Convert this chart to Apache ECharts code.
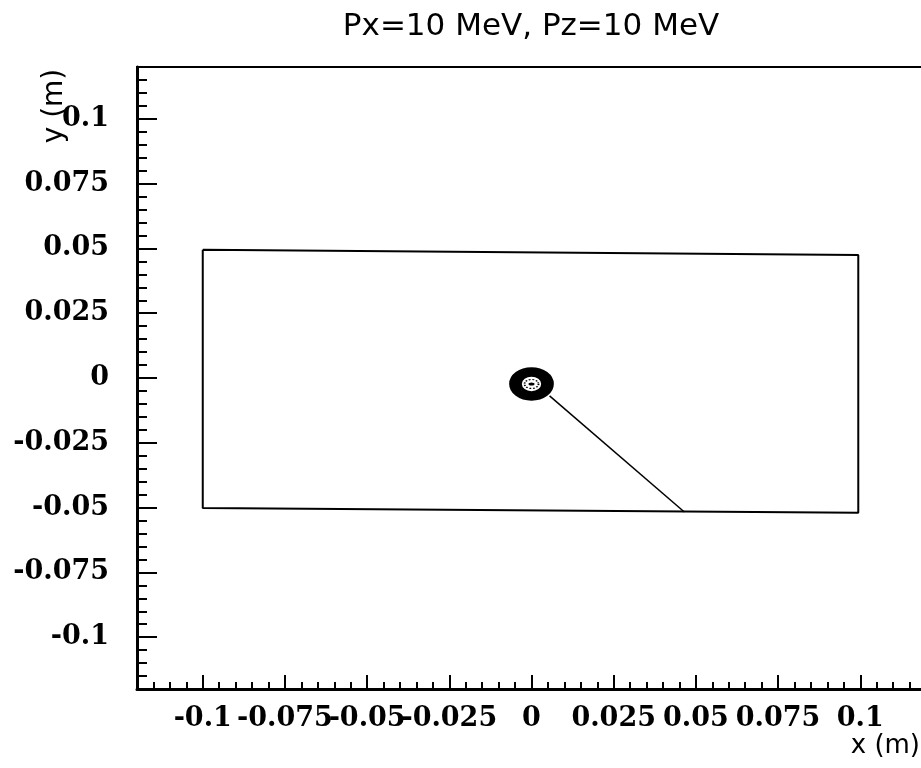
<!DOCTYPE html>
<html>
<head>
<meta charset="utf-8">
<script src="https://cdn.jsdelivr.net/npm/echarts@6/dist/echarts.min.js"></script>
<style>
  html, body { margin: 0; padding: 0; background: #fff; }
  #main { width: 921px; height: 768px; }
</style>
</head>
<body>
<div id="main"></div>
<script>
// axis ticks (major ones get labels)
var majorTicks = [-0.1, -0.075, -0.05, -0.025, 0, 0.025, 0.05, 0.075, 0.1];
var majorLabels = ['-0.1', '-0.075', '-0.05', '-0.025', '0', '0.025', '0.05', '0.075', '0.1'];

// detector box outline (x, y), slightly tilted as in the scan
var boxX = [-0.1, 0.0994, 0.0994, -0.1, -0.1];
var boxY = [0.0495, 0.0475, -0.052, -0.0502, 0.0495];

// curled-up track at the centre, and the straight part leaving it
var curlCentre = [0.0, -0.0023];
var trackX = [0.0055, 0.0465];
var trackY = [-0.0069, -0.0517];

var chartDom = document.getElementById('main');
var myChart = echarts.init(chartDom);
var option;

var labelFont = {
    fontFamily: 'DejaVu Serif',
    fontWeight: 'bold',
    fontSize: 27,
    color: '#000'
};

function labelFor(v) {
    for (var i = 0; i < majorTicks.length; i++) {
        if (Math.abs(majorTicks[i] - v) < 1e-6) return majorLabels[i];
    }
    return '';
}

function zip(xs, ys) {
    return xs.map(function (x, i) { return [x, ys[i]]; });
}

// minor ticks every 0.005, no labels
function minorAxis(pos, len) {
    return {
        type: 'value',
        min: -0.12,
        max: 0.12,
        interval: 0.005,
        position: pos,
        axisLine: { show: true, onZero: false, lineStyle: { color: '#000', width: 3 } },
        axisTick: { show: true, inside: true, length: len, lineStyle: { color: '#000', width: 2 } },
        axisLabel: { show: false },
        splitLine: { show: false }
    };
}

// long ticks + labels every 0.025
function majorAxis(pos, len, margin) {
    return {
        type: 'value',
        min: -0.12,
        max: 0.12,
        interval: 0.005,
        position: pos,
        axisLine: { show: false, onZero: false },
        axisTick: {
            show: true, inside: true, length: len,
            customValues: majorTicks,
            lineStyle: { color: '#000', width: 2 }
        },
        axisLabel: Object.assign({
            customValues: majorTicks,
            margin: margin,
            formatter: labelFor
        }, labelFont),
        splitLine: { show: false }
    };
}

option = {
    animation: false,
    backgroundColor: '#fff',
    title: {
        text: 'Px=10 MeV, Pz=10 MeV',
        left: 526,
        top: 6,
        textAlign: 'center',
        textStyle: {
            fontFamily: 'DejaVu Sans',
            fontWeight: 'normal',
            fontSize: 31,
            color: '#000'
        }
    },
    grid: {
        left: 137,
        width: 789,
        top: 67,
        bottom: 79,
        containLabel: false,
        outerBoundsMode: 'none',
        show: true,
        borderColor: '#000',
        borderWidth: 2
    },
    xAxis: [minorAxis('bottom', 7), majorAxis('bottom', 14, 16)],
    yAxis: [minorAxis('left', 10), majorAxis('left', 20, 28)],
    graphic: [
        {
            type: 'text',
            x: 55,
            y: 106,
            rotation: Math.PI / 2,
            style: {
                text: 'y (m)',
                fontFamily: 'DejaVu Sans',
                fontSize: 28,
                fill: '#000',
                textAlign: 'center',
                textVerticalAlign: 'middle'
            }
        },
        {
            type: 'text',
            x: 920,
            y: 746,
            style: {
                text: 'x (m)',
                fontFamily: 'DejaVu Sans',
                fontSize: 26,
                fill: '#000',
                textAlign: 'right',
                textVerticalAlign: 'middle'
            }
        }
    ],
    series: [
        {
            name: 'box',
            type: 'line',
            data: zip(boxX, boxY),
            symbol: 'none',
            lineStyle: { color: '#000', width: 2 }
        },
        {
            name: 'track',
            type: 'line',
            data: zip(trackX, trackY),
            symbol: 'none',
            lineStyle: { color: '#000', width: 1.5 }
        },
        {
            name: 'curl',
            type: 'scatter',
            data: [curlCentre],
            symbol: 'circle',
            symbolSize: [32, 24],
            itemStyle: { color: '#fff', borderColor: '#000', borderWidth: 11, opacity: 1 },
            z: 3
        },
        {
            name: 'curl core',
            type: 'scatter',
            data: [curlCentre],
            symbol: 'circle',
            symbolSize: [14, 9],
            itemStyle: { color: '#fff', borderColor: '#000', borderWidth: 1.5, borderType: 'dotted', opacity: 1 },
            z: 4
        },
        {
            name: 'curl dot',
            type: 'scatter',
            data: [curlCentre],
            symbol: 'circle',
            symbolSize: [6, 3],
            itemStyle: { color: '#000', opacity: 1 },
            z: 5
        }
    ]
};

option && myChart.setOption(option);
</script>
</body>
</html>
